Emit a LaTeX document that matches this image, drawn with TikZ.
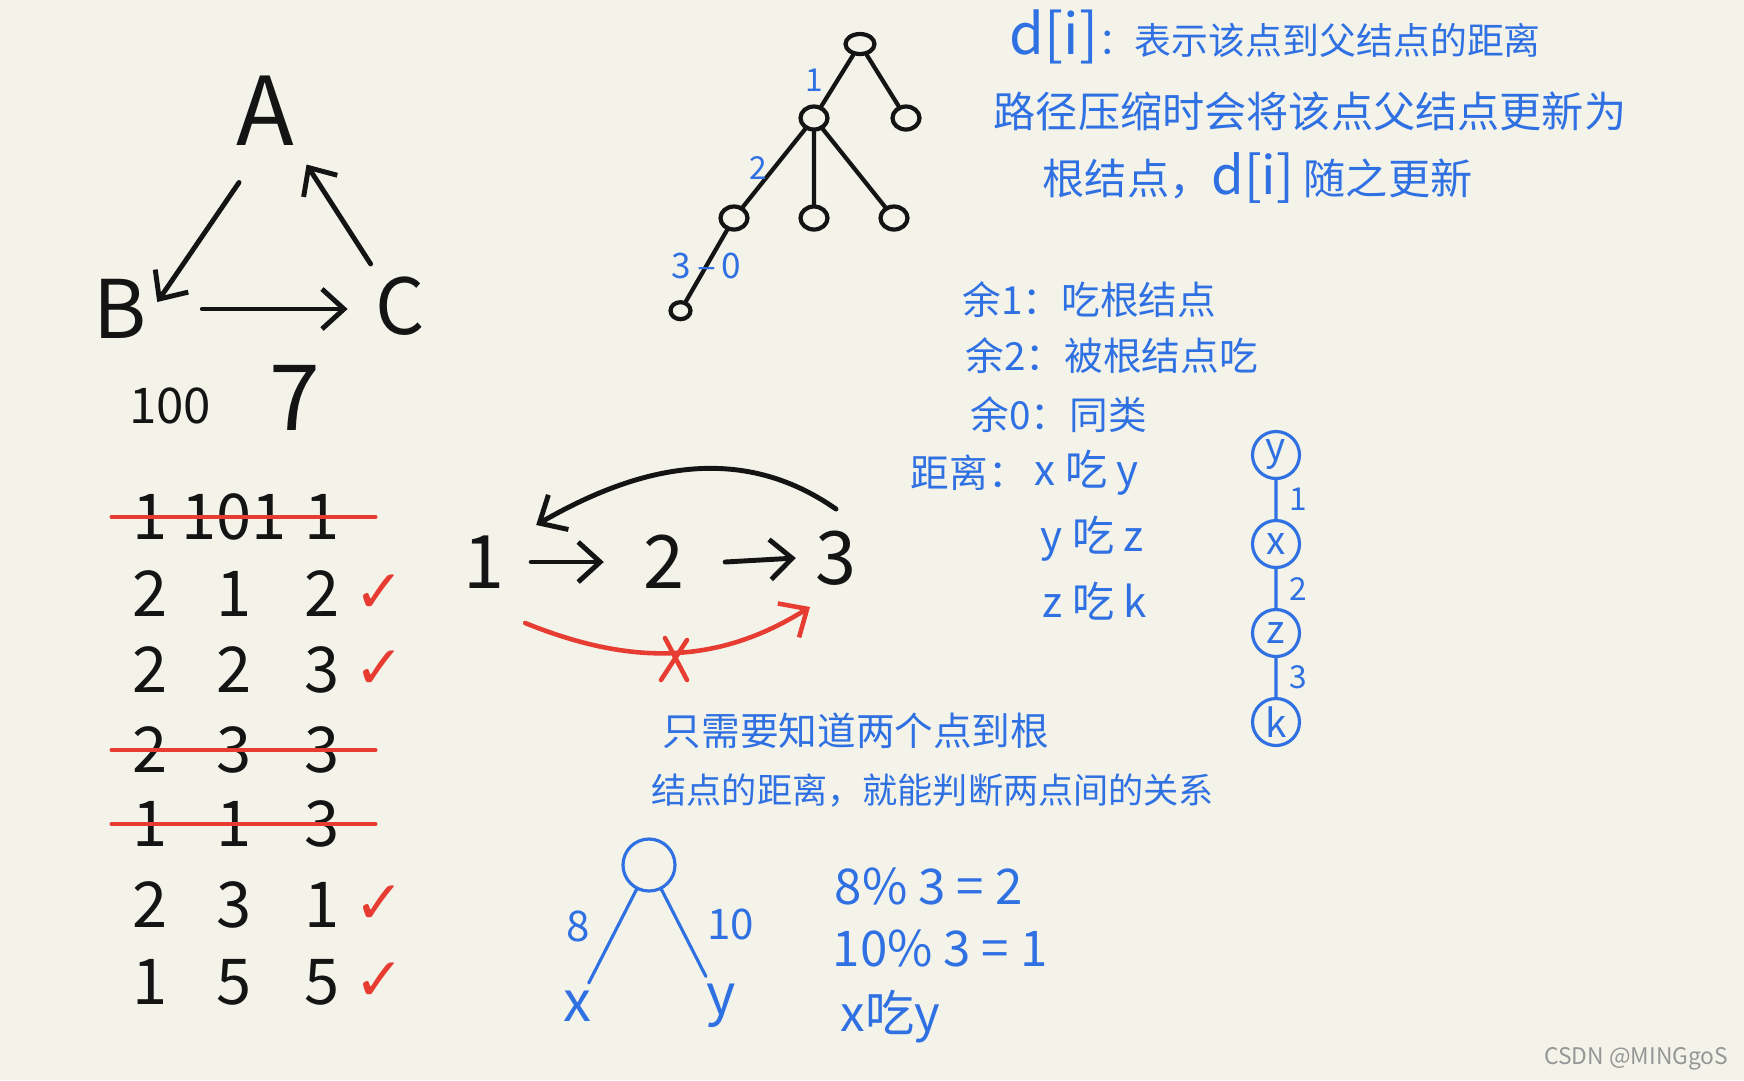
\documentclass[tikz,border=0pt]{standalone}
\usepackage{fontspec}
\setmainfont{Noto Sans CJK SC}
\newfontfamily\symbfont{DejaVu Sans}
\usetikzlibrary{arrows.meta,positioning,shapes.geometric}
\definecolor{paper}{RGB}{244,243,234}
\definecolor{inkblue}{RGB}{47,112,226}
\definecolor{inkred}{RGB}{230,60,50}
\definecolor{inkblack}{RGB}{20,20,20}
\definecolor{stamp}{RGB}{150,150,150}
\tikzset{
  pen/.style={draw=inkblack, line width=1.4pt, line cap=round, line join=round},
  bluepen/.style={draw=inkblue, line width=0.9pt, line cap=round},
  redpen/.style={draw=inkred, line width=1.3pt, line cap=round},
  barb/.style={-{Straight Barb[length=2.2mm, width=4mm]}},
  letter/.style={inner sep=0pt, text=inkblack},
  digit/.style={inner sep=0pt, text=inkblack, font=\fontsize{18}{20}\selectfont},
  note/.style={inner sep=0pt, anchor=west, text=inkblue, font=\fontsize{11}{13}\selectfont},
  dot/.style={ellipse, draw=inkblack, line width=1.2pt, inner sep=0pt, minimum width=2.7mm, minimum height=2.3mm},
  ring/.style={circle, draw=inkblue, line width=0.9pt, inner sep=0pt, minimum size=4.7mm, text=inkblue, font=\fontsize{11}{13}\selectfont},
  small/.style={text=inkblue, font=\fontsize{9}{10}\selectfont, inner sep=1.5pt},
  tick/.style={text=inkred, font=\symbfont\fontsize{17}{19}\selectfont, inner sep=0pt},
  leafname/.style={text=inkblue, font=\fontsize{16}{18}\selectfont, inner sep=2pt}
}
\begin{document}
\begin{tikzpicture}[x=0.1mm, y=0.1mm]
\fill[paper] (0,0) rectangle (1744,-1080);
\useasboundingbox (0,0) rectangle (1744,-1080);

\node[letter, font=\fontsize{27}{30}\selectfont] (A) at (265,-111) {A};
\node[letter, font=\fontsize{23}{26}\selectfont] (B) at (120,-309) {B};
\node[letter, font=\fontsize{22}{26}\selectfont] (C) at (400,-306) {C};
\draw[pen, barb] ([shift={(-26,-36)}]A.south) -- ([shift={(10,7)}]B.east);
\draw[pen, barb] ([shift={(55,0)}]B.east) -- ([shift={(-27,-3)}]C.west);
\draw[pen, barb] ([shift={(-4,12)}]C.north west) -- ([shift={(12,-18)}]A.south east);
\node[letter, font=\fontsize{14}{16}\selectfont] (hundred) at (170,-406) {100};
\node[letter, font=\fontsize{26}{28}\selectfont] (seven) at (295,-398) {7};

\foreach \a/\b/\c/\y/\ok [count=\i] in {1/101/1/517/0, 2/1/2/594/1, 2/2/3/670/1, 2/3/3/750/0, 1/1/3/824/0, 2/3/1/905/1, 1/5/5/982/1}{
  \node[digit] (a\i) at (150,-\y) {\a};
  \node[digit] (b\i) at (234,-\y) {\b};
  \node[digit] (c\i) at (322,-\y) {\c};
  \ifnum\ok=1
    \node[tick] (t\i) at (380,-\y) {✓};
  \else
    \draw[redpen] ([xshift=-2mm]a\i.west) -- ([xshift=3.5mm]c\i.east);
  \fi
}

\node[digit, font=\fontsize{21}{24}\selectfont] (n1) at (484,-562) {1};
\node[digit, font=\fontsize{21}{24}\selectfont] (n2) at (664,-562) {2};
\node[digit, font=\fontsize{21}{24}\selectfont] (n3) at (836,-558) {3};
\draw[pen, barb] ([shift={(26,0)}]n1.east) -- ([shift={(-39,0)}]n2.west);
\draw[pen, barb] ([shift={(40,0)}]n2.east) -- ([shift={(-19,0)}]n3.west);
\draw[pen, barb] ([shift={(0,21)}]n3.north) to[out=145, in=30] ([shift={(31,10)}]n1.north east);
\draw[redpen, -{Straight Barb[length=2.2mm, width=4mm]}] ([shift={(20,-34)}]n1.south east) to[out=-22, in=212] ([shift={(-26,-21)}]n3.south);
\coordinate (cut) at (675,-660);
\draw[redpen] ([shift={(-10,22)}]cut) -- ([shift={(12,-20)}]cut);
\draw[redpen] ([shift={(12,20)}]cut) -- ([shift={(-14,-20)}]cut);

\begin{scope}[level 1/.style={level distance=7.4mm, sibling distance=9.2mm},
              level 2/.style={level distance=10mm, sibling distance=8mm},
              level 3/.style={grow=240, level distance=10.7mm},
              edge from parent/.style={pen, line width=1.2pt, draw}]
\node[dot, minimum width=2.9mm, minimum height=2mm] (top) at (860,-44) {}
    child {node[dot] (mid) {}
        child {node[dot] (low) {}
            child {node[dot, minimum width=2mm, minimum height=1.7mm] (end) {}
                edge from parent node[small, font=\fontsize{10}{11}\selectfont] {3\,--\,0}
            }
            edge from parent node[small, left] {2}
        }
        child {node[dot] (down) {}}
        child {node[dot] (side) {}}
        edge from parent node[small, left=2pt] {1}
    }
    child {node[dot] (right) {}};
\end{scope}

\node[note] (def1) at (1009,-37) {{\fontsize{16}{18}\selectfont d[i]}{\fontsize{10.5}{12}\selectfont ：表示该点到父结点的距离}};
\node[note, font=\fontsize{12}{14}\selectfont] (def2) at (993,-111) {路径压缩时会将该点父结点更新为};
\node[note, font=\fontsize{12}{14}\selectfont] (def3) at (1042,-178) {根结点，{\fontsize{15}{17}\selectfont d[i]} 随之更新};

\node[note] (rem1) at (962,-300) {余1：吃根结点};
\node[note] (rem2) at (965,-356) {余2：被根结点吃};
\node[note] (rem0) at (970,-415) {余0：同类};
\node[note] (dist) at (910,-473) {距离：};
\node[note, font=\fontsize{12}{14}\selectfont] (eat1) at (1034,-473) {x~吃~y};
\node[note, font=\fontsize{12}{14}\selectfont] (eat2) at (1040,-539) {y~吃~z};
\node[note, font=\fontsize{12}{14}\selectfont] (eat3) at (1042,-601) {z~吃~k};

\begin{scope}[level distance=8.9mm, edge from parent/.style={bluepen, draw}]
\node[ring] (cy) at (1276,-455) {y}
    child {node[ring] (cx) {x}
        child {node[ring] (cz) {z}
            child {node[ring] (ck) {k}
                edge from parent node[small, right=2pt] {3}
            }
            edge from parent node[small, right=2pt] {2}
        }
        edge from parent node[small, right=2pt] {1}
    };
\end{scope}

\node[note] (need1) at (662,-731) {只需要知道两个点到根};
\node[note, font=\fontsize{10}{12}\selectfont] (need2) at (651,-790) {结点的距离，就能判断两点间的关系};

\begin{scope}[level distance=14.1mm, sibling distance=14.4mm, edge from parent/.style={bluepen, draw}]
\node[ring, minimum size=5.2mm] (rt) at (649,-865) {}
    child {node[leafname] (lx) {x}
        edge from parent node[small, font=\fontsize{12}{14}\selectfont, pos=0.4, left=6pt] {8}
    }
    child {node[leafname] (ly) {y}
        edge from parent node[small, font=\fontsize{12}{14}\selectfont, pos=0.4, right=6pt] {10}
    };
\end{scope}

\node[note, font=\fontsize{14}{16}\selectfont] (modA) at (834,-886) {8\% 3 = 2};
\node[note, font=\fontsize{14}{16}\selectfont] (modB) at (832,-948) {10\% 3 = 1};
\node[note, font=\fontsize{14}{16}\selectfont] (eat) at (840,-1017) {x吃y};

\node[anchor=east, inner sep=0pt, text=stamp, font=\fontsize{6.5}{8}\selectfont] (mark) at (1729,-1059) {CSDN @MINGgoS};
\end{tikzpicture}
\end{document}
